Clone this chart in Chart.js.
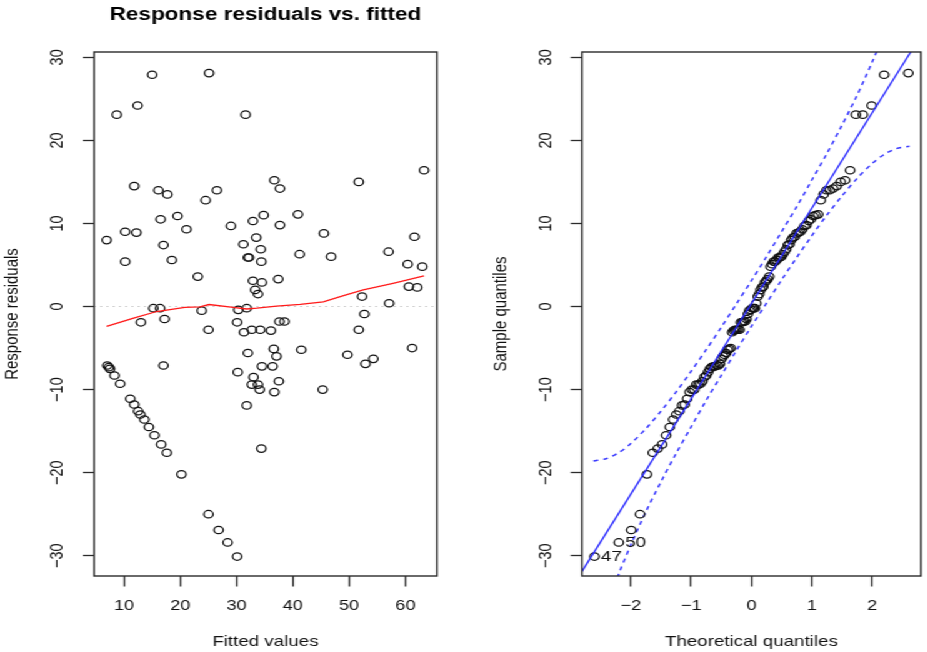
<!DOCTYPE html>
<html>
<head>
<meta charset="utf-8">
<script src="https://cdn.jsdelivr.net/npm/chart.js@4.4.1/dist/chart.umd.min.js"></script>
<style>
  html, body { margin: 0; padding: 0; background: #fff; overflow: hidden; }
  /* the source picture is stretched sideways, so the whole stage is too */
  #stage { position: absolute; left: 0; top: 0; width: 742px; height: 652px;
           transform: scaleX(1.25); transform-origin: 0 0; }
  #stage canvas { position: absolute; top: 0; }
</style>
</head>
<body>
<div id="stage">
  <canvas id="residPlot" width="371" height="652" style="left:0"></canvas>
  <canvas id="qqPlot" width="371" height="652" style="left:371px"></canvas>
</div>
<script>
// --- DATA ---
const fittedValues = [
  6.9, 8.7, 10.2, 10.2, 11.8, 12.2, 12.4, 15.0, 16.1, 16.5, 17.0, 17.7, 18.5, 19.5, 21.1, 23.1, 24.5, 25.1,
  26.5, 29.0, 31.2, 31.6, 32.0, 32.2, 32.9, 32.9, 33.3, 33.5, 33.8, 34.3, 34.4, 34.5, 34.8, 36.7, 37.4, 37.7,
  37.7, 40.9, 41.2, 45.5, 46.8, 51.7, 52.3, 57.0, 57.1, 60.4, 60.6, 61.6, 62.1, 63.0, 63.3,
  15.2, 16.4, 13.0, 17.2, 23.8, 25.0, 30.3, 31.8, 30.1, 31.3, 32.7, 34.2, 36.1, 37.6, 38.5, 51.7, 52.7, 41.5,
  61.2, 49.7, 52.9, 54.3, 36.6, 32.0, 37.1, 34.5, 36.4, 30.2, 33.0, 32.7, 33.8, 37.5, 34.1, 36.7, 45.3, 31.8,
  34.4, 17.0, 7.0, 7.3, 7.5, 8.3, 9.3, 11.1, 11.8, 12.5, 12.9, 13.6, 14.4, 15.4, 16.6, 17.6, 20.2, 25.0,
  26.8, 28.4, 30.1
];
const residuals = [
  8.0, 23.1, 9.0, 5.4, 14.5, 8.9, 24.2, 27.9, 14.0, 10.5, 7.4, 13.5, 5.6, 10.9, 9.3, 3.6, 12.8, 28.1,
  14.0, 9.7, 7.5, 23.1, 5.9, 5.9, 10.3, 3.1, 2.0, 8.3, 1.5, 6.9, 5.4, 2.9, 11.0, 15.2, 3.3, 14.2,
  9.8, 11.1, 6.3, 8.8, 6.0, 15.0, 1.2, 6.6, 0.4, 5.1, 2.4, 8.4, 2.3, 4.8, 16.4,
  -0.2, -0.2, -1.9, -1.5, -0.5, -2.8, -0.4, -0.2, -1.9, -3.1, -2.8, -2.8, -2.9, -1.8, -1.8, -2.8, -0.9, -5.2,
  -5.0, -5.8, -6.9, -6.3, -5.1, -5.6, -6.0, -7.2, -7.2, -7.9, -8.5, -9.4, -9.4, -9.0, -10.0, -10.3, -10.0, -11.9,
  -17.1, -7.1, -7.1, -7.3, -7.5, -8.3, -9.3, -11.1, -11.8, -12.6, -13.0, -13.6, -14.5, -15.5, -16.6, -17.6, -20.2, -25.0,
  -26.9, -28.4, -30.1
];
// smoother (red) read at a few fitted values
const smoothX = [6.9, 11.7, 15.8, 20.8, 23.5, 25.1, 29.4, 31.8, 33.6, 37.1, 41.3, 45.4, 49.0, 52.5, 57.8, 63.3];
const smoothY = [-2.4, -1.4, -0.6, -0.1, -0.05, 0.24, -0.1, -0.3, -0.2, 0.05, 0.25, 0.56, 1.3, 2.0, 2.8, 3.7];

const fittedTicks = [10, 20, 30, 40, 50, 60];
const residTicks = [-30, -20, -10, 0, 10, 20, 30];

// theoretical normal quantiles of the 108 sorted residuals
const theoreticalQ = [
  -2.602, -2.200, -1.993, -1.847, -1.732, -1.636, -1.553, -1.480, -1.414, -1.354, -1.298, -1.245, -1.197, -1.150,
  -1.107, -1.065, -1.025, -0.986, -0.949, -0.913, -0.879, -0.845, -0.812, -0.780, -0.749, -0.719, -0.689, -0.660,
  -0.631, -0.603, -0.576, -0.549, -0.522, -0.495, -0.469, -0.444, -0.418, -0.393, -0.368, -0.343, -0.319, -0.294,
  -0.270, -0.246, -0.222, -0.198, -0.175, -0.151, -0.128, -0.105, -0.081, -0.058, -0.035, -0.012,
  0.012, 0.035, 0.058, 0.081, 0.105, 0.128, 0.151, 0.175, 0.198, 0.222, 0.246, 0.270, 0.294, 0.319,
  0.343, 0.368, 0.393, 0.418, 0.444, 0.469, 0.495, 0.522, 0.549, 0.576, 0.603, 0.631, 0.660, 0.689,
  0.719, 0.749, 0.780, 0.812, 0.845, 0.879, 0.913, 0.949, 0.986, 1.025, 1.065, 1.107, 1.150, 1.197,
  1.245, 1.298, 1.354, 1.414, 1.480, 1.553, 1.636, 1.732, 1.847, 1.993, 2.200, 2.602
];
const qqTicks = [-2, -1, 0, 1, 2];
const qqLine = { intercept: 0.35, slope: 11.47 };
// dashed envelope read along the theoretical axis
const bandX =     [-2.62, -2.4, -2.2, -2.0, -1.75, -1.5, -1.25, -1.0, -0.75, -0.5, -0.25, 0, 0.25, 0.5, 0.75, 1.0, 1.25, 1.5, 1.75, 2.0, 2.2, 2.4, 2.62];
const bandUpper = [-18.6, -18.3, -17.6, -16.5, -14.7, -12.6, -10.3, -7.8, -5.2, -2.5, 0.3, 3.1, 6.0, 9.0, 12.0, 15.2, 18.4, 21.8, 25.4, 29.4, 32.9, 36.8, 41.7];
const bandLower = [-41.0, -36.1, -32.2, -28.7, -24.7, -21.1, -17.7, -14.5, -11.3, -8.3, -5.3, -2.4, 0.4, 3.2, 5.9, 8.5, 11.0, 13.3, 15.4, 17.2, 18.3, 19.0, 19.3];
// identified points, by rank in the sorted residuals
const idText = ['47', '50'];
const idRank = [0, 1];

// --- STYLE ---
Chart.defaults.font.family = '"Liberation Sans", Arial, Helvetica, sans-serif';
Chart.defaults.color = '#111';
Chart.defaults.animation = false;

const minus = v => String(v).replace('-', '\u2212');
const tickList = list => scale => { scale.ticks = list.map(v => ({ value: v })); };

const boxPlugin = {
  id: 'box',
  afterDraw(chart) {
    const a = chart.chartArea, c = chart.ctx;
    c.save();
    c.strokeStyle = '#2b2b2b';
    c.lineWidth = 1.4;
    c.strokeRect(a.left, a.top, a.right - a.left, a.bottom - a.top);
    c.restore();
  }
};

function xAxis(min, max, ticks, label) {
  return {
    type: 'linear', min: min, max: max,
    afterBuildTicks: tickList(ticks),
    afterFit: s => { s.height = 76; },
    border: { display: false },
    grid: { drawOnChartArea: false, drawTicks: true, tickLength: 10.5, tickColor: '#2b2b2b', tickWidth: 1.3 },
    ticks: { font: { size: 14.5 }, padding: 10.3, maxRotation: 0, autoSkip: false, color: '#111', callback: v => minus(v) },
    title: { display: true, text: label, font: { size: 15 }, color: '#111', padding: { top: 0, bottom: 1 } }
  };
}
function yAxis(width, titleGap, label) {
  return {
    type: 'linear', min: -32.44, max: 30.64,
    afterBuildTicks: tickList(residTicks),
    afterFit: s => { s.width = width; },
    border: { display: false },
    grid: { drawOnChartArea: false, drawTicks: true, tickLength: 9, tickColor: '#2b2b2b', tickWidth: 1.3 },
    ticks: { font: { size: 14.5 }, padding: 7.6, minRotation: 90, maxRotation: 90, crossAlign: 'center',
             autoSkip: false, color: '#111', callback: v => minus(v) },
    title: { display: true, text: label, font: { size: 15 }, color: '#111', padding: { top: titleGap, bottom: 0 } }
  };
}
const pointStyle = {
  pointStyle: 'circle', pointRadius: 3.7, pointBorderWidth: 1.25,
  pointBorderColor: '#111', pointBackgroundColor: 'rgba(0,0,0,0)', showLine: false
};

// --- LEFT: residuals vs fitted ---
const xMinL = 4.65, xMaxL = 65.6;
new Chart(document.getElementById('residPlot'), {
  type: 'scatter',
  data: {
    datasets: [
      { data: smoothX.map((x, i) => ({ x: x, y: smoothY[i] })), showLine: true, borderColor: '#ff1a1a',
        borderWidth: 1.3, pointRadius: 0, order: 1 },
      Object.assign({ data: fittedValues.map((x, i) => ({ x: x, y: residuals[i] })), order: 2 }, pointStyle),
      { data: [{ x: xMinL, y: 0 }, { x: xMaxL, y: 0 }], showLine: true, borderColor: '#c4c4c4',
        borderWidth: 1, borderDash: [1.5, 3.5], pointRadius: 0, order: 3 }
    ]
  },
  options: {
    responsive: false, devicePixelRatio: 1,
    layout: { padding: { left: 0, top: 0, right: 21.4, bottom: 0 } },
    scales: { x: xAxis(xMinL, xMaxL, fittedTicks, 'Fitted values'), y: yAxis(75.2, 1, 'Response residuals') },
    plugins: {
      legend: { display: false }, tooltip: { enabled: false },
      title: { display: true, text: 'Response residuals vs. fitted', fullSize: false, color: '#000',
               font: { size: 18, weight: 'bold' }, padding: { top: 4.7, bottom: 25.7 } }
    }
  },
  plugins: [boxPlugin]
});

// --- RIGHT: QQ plot ---
const xMinR = -2.81, xMaxR = 2.81;
const sampleQ = residuals.slice().sort((a, b) => a - b);
const idPlugin = {
  id: 'idLabels',
  afterDatasetsDraw(chart) {
    const meta = chart.getDatasetMeta(1), c = chart.ctx;
    c.save();
    c.font = '15px "Liberation Sans", Arial, sans-serif';
    c.fillStyle = '#111';
    c.textBaseline = 'middle';
    idRank.forEach((r, i) => {
      const el = meta.data[r];
      c.fillText(idText[i], el.x + 5.2, el.y);
    });
    c.restore();
  }
};
new Chart(document.getElementById('qqPlot'), {
  type: 'scatter',
  data: {
    datasets: [
      { data: [xMinR, xMaxR].map(x => ({ x: x, y: qqLine.intercept + qqLine.slope * x })), showLine: true,
        borderColor: '#2626ff', borderWidth: 1.3, pointRadius: 0, order: 1 },
      Object.assign({ data: theoreticalQ.map((x, i) => ({ x: x, y: sampleQ[i] })), order: 2 }, pointStyle),
      { data: bandX.map((x, i) => ({ x: x, y: bandUpper[i] })), showLine: true, borderColor: '#3a3aff',
        borderWidth: 1.5, borderDash: [4, 4], pointRadius: 0, tension: 0.3, order: 3 },
      { data: bandX.map((x, i) => ({ x: x, y: bandLower[i] })), showLine: true, borderColor: '#3a3aff',
        borderWidth: 1.5, borderDash: [4, 4], pointRadius: 0, tension: 0.3, order: 3 }
    ]
  },
  options: {
    responsive: false, devicePixelRatio: 1,
    layout: { padding: { left: 0, top: 52, right: 1.8, bottom: 0 } },
    scales: { x: xAxis(xMinR, xMaxR, qqTicks, 'Theoretical quantiles'), y: yAxis(94.6, 20.6, 'Sample quantiles') },
    plugins: { legend: { display: false }, tooltip: { enabled: false } }
  },
  plugins: [boxPlugin, idPlugin]
});
</script>
</body>
</html>
